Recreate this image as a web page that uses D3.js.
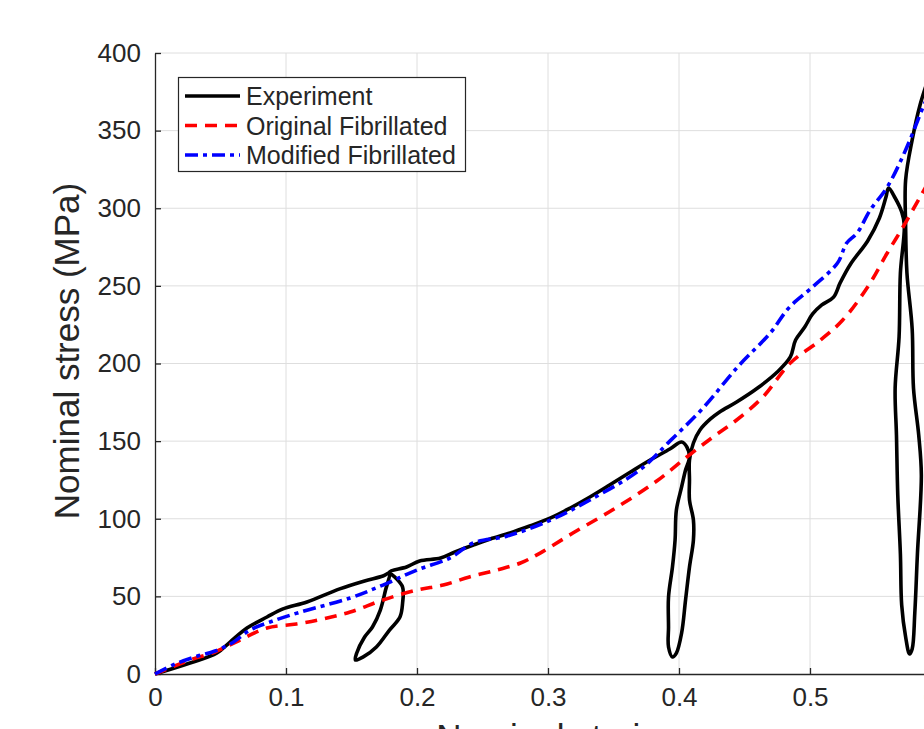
<!DOCTYPE html>
<html>
<head>
<meta charset="utf-8">
<script src="https://cdn.jsdelivr.net/npm/d3@7"></script>
<style>
  html, body { margin: 0; padding: 0; background: #fff; }
  svg { display: block; }
  text { font-family: "Liberation Sans", Arial, Helvetica, sans-serif; fill: #262626; }
</style>
</head>
<body>
<svg id="chart" width="924" height="729"></svg>
<script>
// ---- Data (strain, stress in MPa) ----
const expStrain = [0,0.0267,0.0473,0.0573,0.0702,0.0855,0.0977,0.116,0.141,0.160,0.174,0.179,
  0.176,0.172,0.166,0.160,0.154,0.153,
  0.159,0.169,0.179,0.187,0.189,0.189,0.183,0.179,
  0.192,0.202,0.218,0.229,0.243,0.256,0.271,0.286,0.302,0.317,0.332,0.347,0.363,0.378,0.393,0.402,0.406,0.408,
  0.405,0.402,0.398,0.397,0.395,0.392,0.392,0.392,0.395,
  0.398,0.402,0.405,0.408,0.411,0.411,0.408,0.408,0.408,
  0.411,0.416,0.424,0.431,0.444,0.460,0.475,0.485,0.489,0.496,0.502,0.509,0.518,0.523,0.531,0.544,0.553,0.558,0.560,
  0.565,0.570,0.572,
  0.569,0.568,0.565,0.566,0.567,0.569,0.570,0.573,0.576,
  0.578,0.580,0.582,0.585,0.583,0.579,0.578,0.574,0.573,
  0.573,0.578,0.584,0.590];
const expStress = [0,7.1,13.5,20.6,29.6,36.7,41.9,46.4,54.8,59.9,63.1,65.1,
  54.1,41.2,30.3,23.8,13.5,9.0,
  11.0,17.4,28.3,36.7,45.7,56.0,62.5,65.7,
  68.9,72.8,74.7,78.6,83.1,87.0,90.8,95.3,100.5,106.9,114.0,121.7,130.1,137.8,144.9,149.4,146.2,139.8,
  131.4,120.5,105.6,86.3,68.9,49.6,30.3,17.4,11.0,
  13.5,26.4,47.7,68.9,86.3,99.2,112.1,125.0,137.8,
  148.8,157.2,164.3,168.8,175.2,184.2,194.5,204.2,215.1,223.5,231.9,237.7,242.8,251.9,264.1,278.9,293.7,307.2,313.0,
  306.6,297.6,289.2,
  258.3,217.1,184.2,153.9,115.3,77.3,44.4,23.8,12.9,
  16.1,39.3,77.3,128.2,153.9,184.2,222.2,258.3,288.6,
  318.2,344.0,366.5,382.6];

const origStrain = [0,0.0267,0.0458,0.0649,0.0855,0.108,0.128,0.149,0.174,0.200,0.220,0.240,0.261,0.279,0.294,0.319,0.353,0.383,0.406,0.426,0.444,0.464,0.485,0.508,0.525,0.544,0.559,0.571,0.584,0.595];
const origStress = [0,9.0,14.2,21.9,29.6,32.2,35.4,39.9,47.7,54.1,57.3,62.5,67.0,71.5,77.9,90.8,107.6,124.3,139.8,152.7,163.6,178.4,200.3,215.1,228.0,249.3,271.2,287.9,307.2,323.3];

const modStrain = [0,0.0153,0.0305,0.0458,0.0588,0.0725,0.0878,0.111,0.149,0.174,0.200,0.225,0.243,0.269,0.302,0.332,0.370,0.393,0.418,0.445,0.470,0.484,0.502,0.521,0.528,0.536,0.546,0.559,0.573,0.587,0.595];
const modStress = [0,6.4,11.0,14.8,20.0,28.3,33.5,39.9,49.0,57.3,67.0,74.7,84.4,88.9,99.2,112.1,131.4,150.0,171.0,198.0,220.0,236.0,249.3,264.7,277.6,284.1,298.9,313.7,337.5,366.5,381.3];

const xTicks = [0,0.1,0.2,0.3,0.4,0.5,0.6];
const yTicks = [0,50,100,150,200,250,300,350,400];
const seriesNames = ["Experiment","Original Fibrillated","Modified Fibrillated"];
const yLabel = "Nominal stress (MPa)";
const xLabel = "Nominal strain";

// ---- Layout ----
const svg = d3.select("#chart");
const mLeft = 155, mTop = 53, mBottom = 674;
const x = d3.scaleLinear().domain([0, 0.6]).range([mLeft, mLeft + 786]);
const y = d3.scaleLinear().domain([0, 400]).range([mBottom, mTop]);
const axisColor = "#262626";

// grid
const grid = svg.append("g");
grid.selectAll("line.v").data(xTicks.slice(1)).enter().append("line")
  .attr("x1", d => x(d)).attr("x2", d => x(d)).attr("y1", mTop).attr("y2", mBottom)
  .attr("stroke", "#dedede").attr("stroke-width", 1);
grid.selectAll("line.h").data(yTicks.slice(1)).enter().append("line")
  .attr("x1", mLeft).attr("x2", 941).attr("y1", d => y(d)).attr("y2", d => y(d))
  .attr("stroke", "#dedede").attr("stroke-width", 1);

// axes
const xAxis = d3.axisBottom(x).tickValues(xTicks).tickSizeInner(-6).tickSizeOuter(0).tickPadding(14)
  .tickFormat(d => d === 0 ? "0" : d3.format(".1f")(d));
const gx = svg.append("g").attr("transform", `translate(0,${mBottom})`).call(xAxis);
const yAxis = d3.axisLeft(y).tickValues(yTicks).tickSizeInner(-6).tickSizeOuter(0).tickPadding(14);
const gy = svg.append("g").attr("transform", `translate(${mLeft},0)`).call(yAxis);
[gx, gy].forEach(g => {
  g.select(".domain").attr("stroke", axisColor).attr("stroke-width", 1.3);
  g.selectAll(".tick line").attr("stroke", axisColor).attr("stroke-width", 1.3);
  g.selectAll(".tick text").attr("font-size", 26).attr("fill", "#333")
    .style("font-family", '"Liberation Sans", Arial, sans-serif');
});
gx.selectAll(".tick text").attr("dy", "0.71em");

// labels
svg.append("text").attr("transform", `translate(79,351) rotate(-90)`)
  .attr("text-anchor", "middle").attr("font-size", 35).attr("fill", "#333").text(yLabel);
svg.append("text").attr("x", x(0.3)).attr("y", 749)
  .attr("text-anchor", "middle").attr("font-size", 35).attr("fill", "#333").text(xLabel);

// lines
const line = d3.line().x(d => x(d[0])).y(d => y(d[1])).curve(d3.curveCatmullRom.alpha(0.5));
const expData = expStrain.map((s, i) => [s, expStress[i]]);
const origData = origStrain.map((s, i) => [s, origStress[i]]);
const modData = modStrain.map((s, i) => [s, modStress[i]]);

const styles = [
  { color: "#000000", dash: null },
  { color: "#ff0000", dash: "12,8" },
  { color: "#0000ff", dash: "13,5,4,5" }
];
[expData, origData, modData].forEach((d, i) => {
  svg.append("path").datum(d).attr("d", line)
    .attr("fill", "none").attr("stroke", styles[i].color).attr("stroke-width", 3.6)
    .attr("stroke-linejoin", "round").attr("stroke-linecap", "butt")
    .attr("stroke-dasharray", styles[i].dash);
});

// legend
const lg = svg.append("g");
lg.append("rect").attr("x", 178.5).attr("y", 77.5).attr("width", 287).attr("height", 94)
  .attr("fill", "#fff").attr("stroke", axisColor).attr("stroke-width", 1.2);
seriesNames.forEach((name, i) => {
  const yy = 96 + i * 29.5;
  lg.append("line").attr("x1", 185).attr("x2", 240).attr("y1", yy).attr("y2", yy)
    .attr("stroke", styles[i].color).attr("stroke-width", 3.6)
    .attr("stroke-dasharray", styles[i].dash);
  lg.append("text").attr("x", 246).attr("y", yy).attr("dy", "0.36em")
    .attr("font-size", 25).attr("fill", "#222").text(name);
});
</script>
</body>
</html>
